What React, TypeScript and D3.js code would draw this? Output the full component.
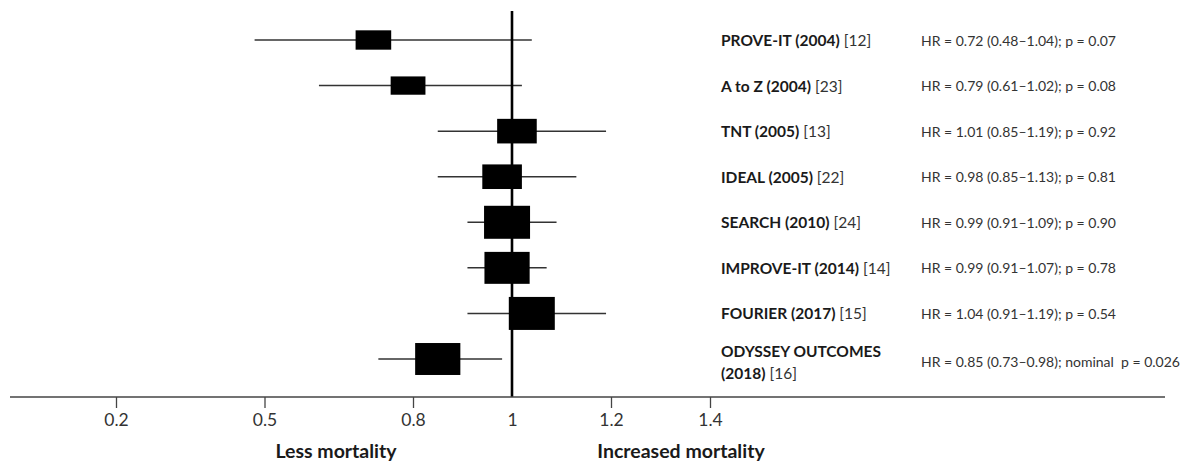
import React, { useEffect, useRef } from 'react';
import * as d3 from 'd3';

const width = 1189;
const height = 461;
const font = 'Lato, "Open Sans", sans-serif';

// study rows, top to bottom
const studies = [
  'PROVE-IT (2004)',
  'A to Z (2004)',
  'TNT (2005)',
  'IDEAL (2005)',
  'SEARCH (2010)',
  'IMPROVE-IT (2014)',
  'FOURIER (2017)',
  'ODYSSEY OUTCOMES\n(2018)',
];
const citations = ['[12]', '[23]', '[13]', '[22]', '[24]', '[14]', '[15]', '[16]'];
const hr = [0.72, 0.79, 1.01, 0.98, 0.99, 0.99, 1.04, 0.85];
const lower = [0.48, 0.61, 0.85, 0.85, 0.91, 0.91, 0.91, 0.73];
const upper = [1.04, 1.02, 1.19, 1.13, 1.09, 1.07, 1.19, 0.98];
const pLabels = ['p = 0.07', 'p = 0.08', 'p = 0.92', 'p = 0.81', 'p = 0.90', 'p = 0.78', 'p = 0.54', 'nominal  p = 0.026'];
// relative study weight (box size)
const weights = [0.35, 0.3, 0.6, 0.6, 1, 0.95, 1, 0.95];
const tickValues = [0.2, 0.5, 0.8, 1, 1.2, 1.4];

const axisY = 397;
const lineTop = 11;

const xScale = d3.scaleLinear().domain([0.2, 1.4]).range([116, 710]);
const yScale = d3.scalePoint<string>().domain(studies).range([40, 359]);
const boxW = d3.scaleLinear().domain([0, 1]).range([30, 46]);
const boxH = d3.scaleLinear().domain([0, 1]).range([12, 33]);

const fmt = d3.format('.2f');

export default function App() {
  const axisRef = useRef<SVGGElement>(null);

  useEffect(() => {
    const axis = d3.axisBottom(xScale)
      .tickValues(tickValues)
      .tickFormat(d => String(d))
      .tickSize(11)
      .tickPadding(6);
    const g = d3.select(axisRef.current!).call(axis as any);
    g.attr('font-size', 17.5).attr('font-family', font);
    g.select('.domain').remove();
    g.selectAll<SVGLineElement, number>('.tick line')
      .attr('stroke', '#444')
      .attr('stroke-width', 1.3)
      .attr('opacity', d => (d === 1 ? 0 : 1));
    g.selectAll('.tick text').attr('fill', '#333');
  }, []);

  const rows = studies.map((s, i) => ({
    name: s,
    cite: citations[i],
    hr: hr[i],
    lo: lower[i],
    hi: upper[i],
    p: pLabels[i],
    w: weights[i],
    y: yScale(s)!,
  }));

  return (
    <svg width={width} height={height} style={{ position: 'absolute', left: 0, top: 0 }}>
      <rect width={width} height={height} fill='#fff' />

      {/* confidence intervals */}
      {rows.map(r => (
        <line key={'ci' + r.name} x1={xScale(r.lo)} x2={xScale(r.hi)} y1={r.y} y2={r.y}
          stroke='#333' strokeWidth='1.5' />
      ))}

      {/* line of no effect */}
      <line x1={xScale(1)} x2={xScale(1)} y1={lineTop} y2={axisY} stroke='#000' strokeWidth='2.6' />

      {/* point estimates */}
      {rows.map(r => (
        <rect key={'box' + r.name}
          x={xScale(r.hr) - boxW(r.w) / 2} y={r.y - boxH(r.w) / 2}
          width={boxW(r.w)} height={boxH(r.w)} fill='#000' />
      ))}

      {/* x axis */}
      <line x1={10} x2={1165} y1={axisY} y2={axisY} stroke='#444' strokeWidth='1.5' />
      <g ref={axisRef} transform={`translate(0, ${axisY})`} />

      <text x={336} y={458} textAnchor='middle' fontFamily={font} fontWeight='bold' fontSize='19.5' fill='#1a1a1a'>
        Less mortality
      </text>
      <text x={681} y={458} textAnchor='middle' fontFamily={font} fontWeight='bold' fontSize='19.5' fill='#1a1a1a'>
        Increased mortality
      </text>

      {/* study names */}
      {rows.map(r => {
        const lines = r.name.split('\n');
        const lh = 22;
        const y0 = r.y - ((lines.length - 1) * lh) / 2 + (lines.length > 1 ? 3 : 0);
        return (
          <text key={'lab' + r.name} x={721} fontFamily={font} fontSize='15.5' fill='#1a1a1a' dominantBaseline='central'>
            {lines.map((l, j) => (
              <tspan key={j} x={721} y={y0 + j * lh}>
                <tspan fontWeight='bold'>{l}</tspan>
                {j === lines.length - 1 ? <tspan fill='#333'>{' ' + r.cite}</tspan> : null}
              </tspan>
            ))}
          </text>
        );
      })}

      {/* hazard ratios */}
      {rows.map(r => (
        <text key={'hr' + r.name} x={921} y={r.y + (r.name.includes('\n') ? 2 : 0)} fontFamily={font} fontSize='14'
          fill='#333' dominantBaseline='central' style={{ whiteSpace: 'pre' }}>
          {`HR = ${fmt(r.hr)} (${fmt(r.lo)}–${fmt(r.hi)}); ${r.p}`}
        </text>
      ))}
    </svg>
  );
}
